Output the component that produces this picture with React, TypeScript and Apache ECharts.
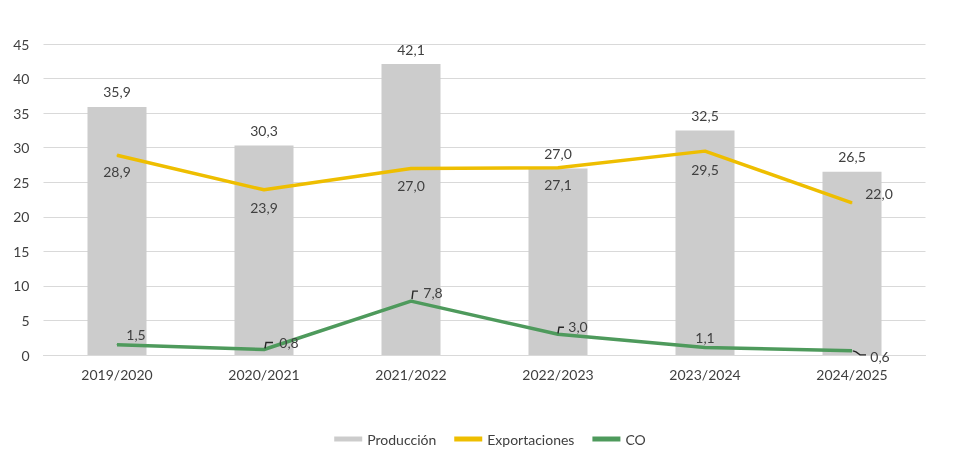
import React, { useEffect, useRef } from "react";
import * as echarts from "echarts";

const categories = ["2019/2020", "2020/2021", "2021/2022", "2022/2023", "2023/2024", "2024/2025"];
const produccion = [35.9, 30.3, 42.1, 27.0, 32.5, 26.5];
const exportaciones = [28.9, 23.9, 27.0, 27.1, 29.5, 22.0];
const co = [1.5, 0.8, 7.8, 3.0, 1.1, 0.6];
const yTicks = { min: 0, max: 45, interval: 5 };

// label offsets (pixels) for readability, like the reference
const expOffsets: [number, number, string][] = [
  [0, 4, "bottom"], [0, 5, "bottom"], [0, 5, "bottom"], [0, 4, "bottom"], [0, 6, "bottom"], [27, -22, "bottom"],
];
const coOffsets: [number, number][] = [[19, 2], [25, 6], [22, 4], [20, 5], [0, 3], [28, 18]];
// leader line shapes relative to data point (pixels); null = none
const coLeaders: ([number, number][] | null)[] = [
  null,
  [[1, -1], [2, -7], [9, -7]],
  [[1, -2], [2, -10], [7, -10]],
  [[0, -1], [1, -7], [6, -7]],
  null,
  [[1, 0], [4, 1], [8, 4], [14, 4]],
];

const FONT = "Lato";
const TXT = "#404040";

export default function App() {
  const ref = useRef<HTMLDivElement>(null);
  useEffect(() => {
    const chart = echarts.init(ref.current!, null, { renderer: "svg" });
    const fmt = (p: any) => String(Number(p.value).toFixed(1)).replace(".", ",");
    chart.setOption({
      animation: false,
      textStyle: { fontFamily: FONT, color: TXT },
      grid: { left: 43.5, right: 54.5, top: 44, bottom: 108 },
      legend: {
        bottom: 12,
        left: "center",
        itemGap: 18,
        itemWidth: 28,
        itemHeight: 5,
        textStyle: { fontFamily: FONT, fontSize: 14, color: TXT },
        data: [
          { name: "Producción", icon: "rect" },
          { name: "Exportaciones", icon: "rect", itemStyle: { color: "#EEBE00" } },
          { name: "CO", icon: "rect", itemStyle: { color: "#4E9A5C" } },
        ],
      },
      xAxis: {
        type: "category",
        data: categories,
        axisTick: { show: false },
        axisLine: { lineStyle: { color: "#d9d9d9", width: 1 } },
        axisLabel: { fontFamily: FONT, fontSize: 14, color: TXT, margin: 12 },
      },
      yAxis: {
        type: "value",
        min: yTicks.min,
        max: yTicks.max,
        interval: yTicks.interval,
        axisLine: { show: false },
        axisTick: { show: false },
        splitLine: { lineStyle: { color: "#d9d9d9", width: 1 } },
        axisLabel: { fontFamily: FONT, fontSize: 14, color: TXT, margin: 14 },
      },
      series: [
        {
          name: "Producción",
          type: "bar",
          data: produccion,
          barWidth: 59,
          itemStyle: { color: "#CCCCCC" },
          label: { show: true, position: "top", distance: 8, formatter: fmt, fontFamily: FONT, fontSize: 14, color: TXT },
        },
        {
          name: "Exportaciones",
          type: "line",
          data: exportaciones.map((v, i) => ({
            value: v,
            label: { position: expOffsets[i][2], offset: [expOffsets[i][0], expOffsets[i][1]] },
          })),
          symbol: "circle",
          symbolSize: 1,
          lineStyle: { color: "#EEBE00", width: 3.5 },
          itemStyle: { color: "#EEBE00" },
          label: { show: true, formatter: fmt, fontFamily: FONT, fontSize: 14, color: TXT },
        },
        {
          name: "CO",
          type: "line",
          data: co.map((v, i) => ({
            value: v,
            label: { position: "top", offset: coOffsets[i] },
          })),
          symbol: "circle",
          symbolSize: 1,
          lineStyle: { color: "#4E9A5C", width: 3.5 },
          itemStyle: { color: "#4E9A5C" },
          label: { show: true, formatter: fmt, fontFamily: FONT, fontSize: 14, color: TXT },
        },
        {
          name: "leaders",
          type: "custom",
          data: co.map((v, i) => [i, v]),
          silent: true,
          z: 5,
          renderItem: (params: any, api: any) => {
            const idx = params.dataIndex;
            const shape = coLeaders[idx];
            if (!shape) return null;
            const p = api.coord([api.value(0), api.value(1)]);
            return {
              type: "polyline",
              shape: { points: shape.map(([dx, dy]) => [p[0] + dx, p[1] + dy]) },
              style: { stroke: "#262626", lineWidth: 1.4, fill: null },
            };
          },
        },
      ],
    });
    return () => chart.dispose();
  }, []);
  return <div ref={ref} style={{ position: "fixed", left: 0, top: 0, width: 980, height: 463 }} />;
}
